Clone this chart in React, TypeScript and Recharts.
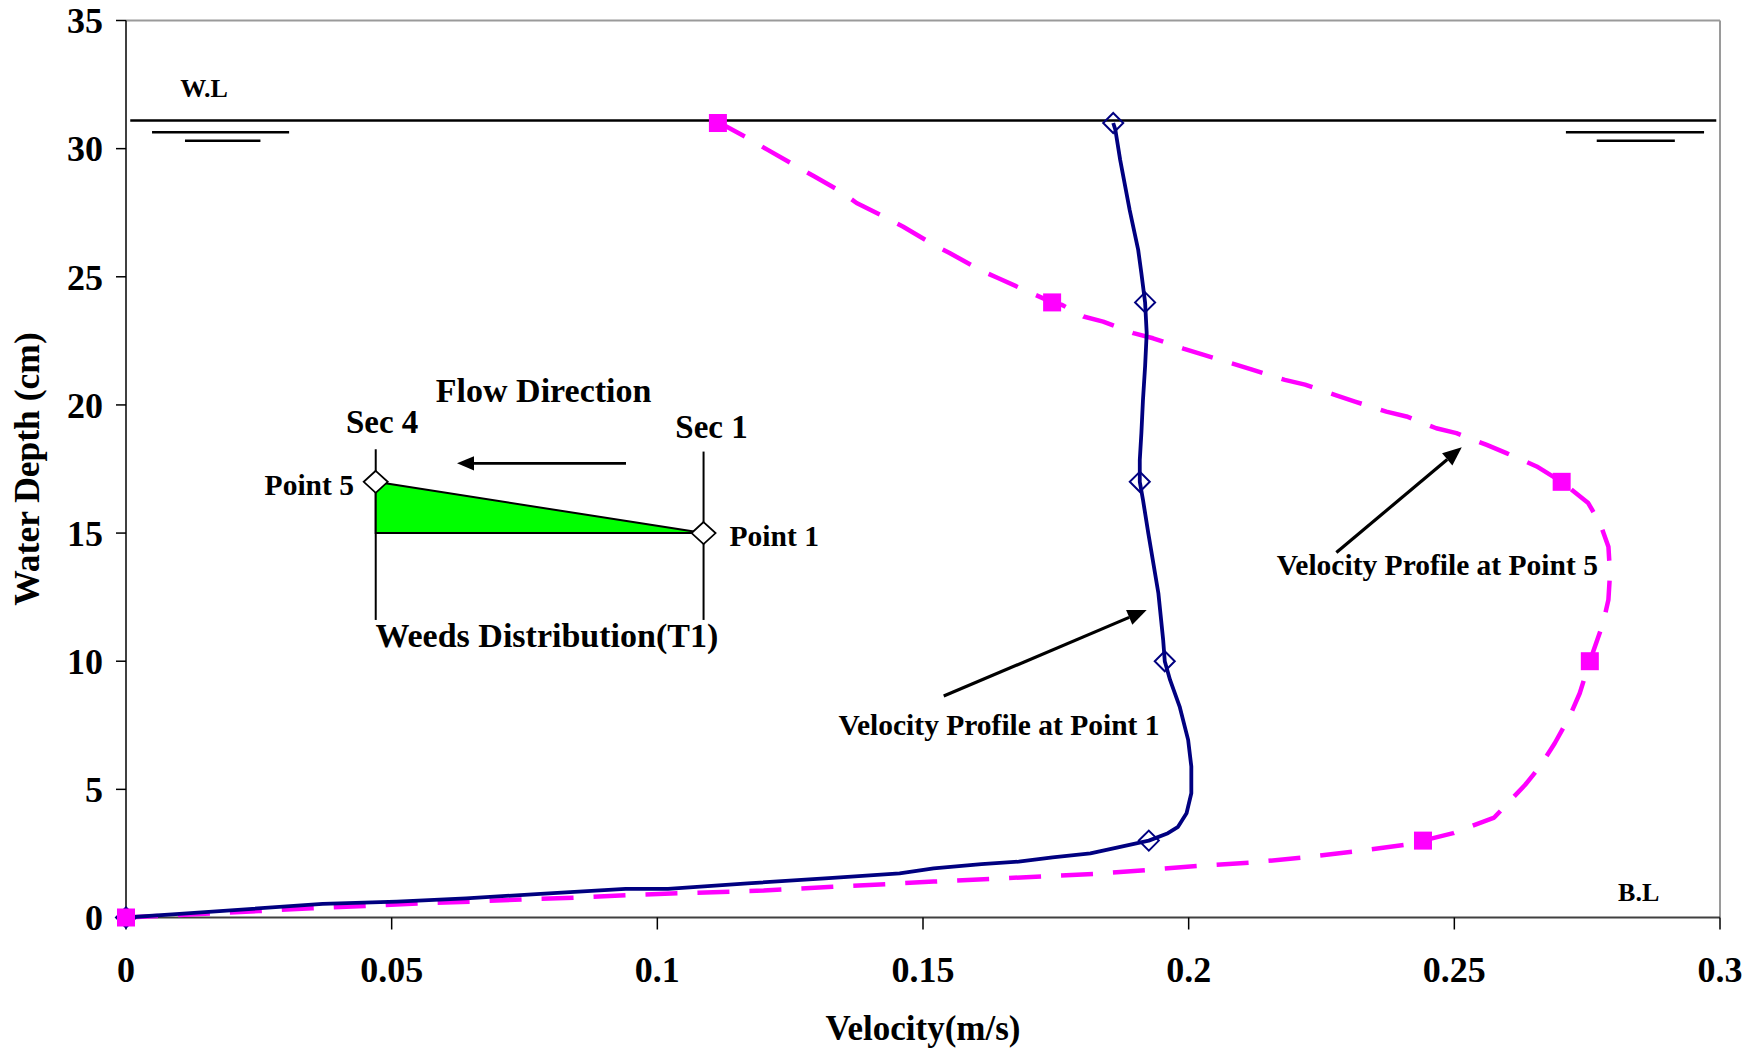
import React from "react";
import {
  ScatterChart,
  Scatter,
  XAxis,
  YAxis,
  ReferenceLine,
  ReferenceDot,
  Label,
} from "recharts";

const FONT = '"Liberation Serif", "Times New Roman", serif';
const NAVY = "#000080";
const MAGENTA = "#FF00FF";

const velocityTicks = [0, 0.05, 0.1, 0.15, 0.2, 0.25, 0.3];
const depthTicks = [0, 5, 10, 15, 20, 25, 30, 35];

// measured points (markers)
const point1Velocity = [0, 0.1925, 0.1955, 0.1908, 0.1918, 0.1858];
const point1Depth = [0, 3, 10, 17, 24, 31];
const point5Velocity = [0, 0.2441, 0.2755, 0.2702, 0.1743, 0.1114];
const point5Depth = [0, 3, 10, 17, 24, 31];

// drawn profile curves, traced from bed up to the surface
const point1CurveVelocity = [
  0, 0.0087, 0.037, 0.051, 0.064, 0.078, 0.094, 0.102, 0.117, 0.133, 0.1456,
  0.152, 0.161, 0.168, 0.1744, 0.1815, 0.1867, 0.1925, 0.1961, 0.198, 0.1996,
  0.2005, 0.2005, 0.1999, 0.1983, 0.1965, 0.1955, 0.1952, 0.1943, 0.1924,
  0.1914, 0.1908, 0.1908, 0.1911, 0.1914, 0.1918, 0.1921, 0.1918, 0.1911,
  0.1905, 0.1889, 0.1871, 0.1862, 0.1858,
];
const point1CurveDepth = [
  0, 0.12, 0.53, 0.62, 0.75, 0.92, 1.12, 1.12, 1.33, 1.55, 1.72, 1.92, 2.08,
  2.18, 2.35, 2.5, 2.74, 3, 3.29, 3.54, 4.07, 4.85, 5.89, 6.93, 8.23, 9.27, 10,
  10.83, 12.65, 15, 16.3, 17, 17.86, 18.9, 20.2, 21.5, 22.8, 24, 25.14, 26.05,
  27.6, 29.57, 30.74, 31,
];

const point5CurveVelocity = [
  0, 0.01, 0.025, 0.035, 0.045, 0.055, 0.065, 0.075, 0.085, 0.095, 0.105,
  0.12, 0.133, 0.1456, 0.152, 0.165, 0.182, 0.192, 0.202, 0.212, 0.222, 0.231,
  0.2405, 0.2441, 0.2498, 0.2575, 0.2633, 0.2661, 0.2689, 0.2717, 0.2736,
  0.2755, 0.278, 0.279, 0.2793, 0.279, 0.2774, 0.2752, 0.2702, 0.2655, 0.2598,
  0.2561, 0.2504, 0.2466, 0.241, 0.2372, 0.2313, 0.2275, 0.2219, 0.2181,
  0.2121, 0.2059, 0.2027, 0.199, 0.1933, 0.1896, 0.1839, 0.1802, 0.1762,
  0.1743, 0.1697, 0.1641, 0.1607, 0.155, 0.152, 0.1462, 0.1426, 0.1375,
  0.1345, 0.1295, 0.1257, 0.1207, 0.117, 0.1129, 0.1114,
];
const point5CurveDepth = [
  0, 0.1, 0.25, 0.36, 0.45, 0.55, 0.62, 0.71, 0.78, 0.88, 0.95, 1.05, 1.2,
  1.33, 1.4, 1.53, 1.7, 1.85, 2.02, 2.15, 2.35, 2.57, 2.83, 3, 3.29, 3.9, 5.17,
  5.89, 6.8, 7.84, 8.75, 10, 11.48, 12.4, 13.43, 14.47, 15.39, 16.17, 17, 17.6,
  18.12, 18.44, 18.9, 19.09, 19.55, 19.74, 20.13, 20.39, 20.79, 20.98, 21.37,
  21.76, 21.96, 22.2, 22.6, 22.8, 23.25, 23.45, 23.9, 24, 24.43, 24.95, 25.27,
  25.93, 26.25, 26.96, 27.35, 27.88, 28.33, 28.92, 29.37, 29.96, 30.41, 30.87,
  31,
];

const waterLevel = 31.1;

const zip = (v: number[], d: number[]) => v.map((x, i) => ({ v: x, d: d[i] }));

const point1Points = zip(point1Velocity, point1Depth);
const point5Points = zip(point5Velocity, point5Depth);
const point1Curve = zip(point1CurveVelocity, point1CurveDepth);
const point5Curve = zip(point5CurveVelocity, point5CurveDepth);

const Empty = () => <g />;

const HollowDiamond = (p: any) => (
  <path
    d={`M${p.cx},${p.cy - 10}L${p.cx + 10},${p.cy}L${p.cx},${p.cy + 10}L${p.cx - 10},${p.cy}Z`}
    fill="none"
    stroke={NAVY}
    strokeWidth={2}
  />
);

const Square = (p: any) => (
  <rect x={p.cx - 9} y={p.cy - 9} width={18} height={18} fill={MAGENTA} />
);

const WhiteDiamond = (p: any) => (
  <path
    d={`M${p.cx},${p.cy - 11}L${p.cx + 12},${p.cy}L${p.cx},${p.cy + 11}L${p.cx - 12},${p.cy}Z`}
    fill="#fff"
    stroke="#000"
    strokeWidth={1.8}
  />
);

const Arrow = ({ x1, y1, x2, y2, w = 3, head = 18 }: any) => {
  const a = Math.atan2(y2 - y1, x2 - x1);
  const bx = x2 - head * Math.cos(a);
  const by = y2 - head * Math.sin(a);
  const hw = head * 0.42;
  const px = -Math.sin(a) * hw;
  const py = Math.cos(a) * hw;
  return (
    <g>
      <line x1={x1} y1={y1} x2={bx} y2={by} stroke="#000" strokeWidth={w} />
      <polygon
        points={`${x2},${y2} ${bx + px},${by + py} ${bx - px},${by - py}`}
        fill="#000"
      />
    </g>
  );
};

const Wedge = ({ x1, y1, x2, y2 }: any) => (
  <polygon
    points={`${x1},${y1} ${x2},${y2} ${x1},${y2}`}
    fill="#00FF00"
    stroke="#000"
    strokeWidth={2}
  />
);

const textAt =
  (text: string, size: number, anchor: "start" | "middle" | "end" = "middle") =>
  (p: any) => (
    <text
      x={p.cx}
      y={p.cy}
      textAnchor={anchor}
      fontFamily={FONT}
      fontWeight="bold"
      fontSize={size}
      fill="#000"
    >
      {text}
    </text>
  );

const tickStyle = {
  fontSize: 36,
  fontFamily: FONT,
  fontWeight: "bold",
  fill: "#000",
};

export default function App() {
  return (
    <div style={{ position: "absolute", left: 0, top: 0, background: "#fff" }}>
      <ScatterChart
        width={1755}
        height={1051}
        margin={{ top: 20.5, right: 35, bottom: 33.5, left: 26 }}
      >
        <XAxis
          type="number"
          dataKey="v"
          domain={[0, 0.3]}
          ticks={velocityTicks}
          interval={0}
          height={100}
          tickSize={12}
          tickMargin={27}
          tick={tickStyle}
          tickLine={{ stroke: "#000", strokeWidth: 1.5 }}
          axisLine={{ stroke: "#404040", strokeWidth: 2 }}
          tickFormatter={(v) => String(v)}
        >
          <Label
            content={(props: any) => {
              const vb = props.viewBox ?? { x: 126, y: 917.5, width: 1594, height: 100 };
              return (
                <text
                  x={vb.x + vb.width / 2}
                  y={vb.y + 122.5}
                  textAnchor="middle"
                  fontFamily={FONT}
                  fontWeight="bold"
                  fontSize={35}
                >
                  Velocity(m/s)
                </text>
              );
            }}
          />
        </XAxis>
        <YAxis
          type="number"
          dataKey="d"
          domain={[0, 35]}
          ticks={depthTicks}
          interval={0}
          width={100}
          tickSize={10}
          tickMargin={13}
          tick={tickStyle}
          tickLine={{ stroke: "#000", strokeWidth: 1.5 }}
          axisLine={{ stroke: "#000", strokeWidth: 1.5 }}
        >
          <Label
            content={(props: any) => {
              const vb = props.viewBox ?? { x: 26, y: 20.5, width: 100, height: 897 };
              const x = vb.x + 13;
              const y = vb.y + vb.height / 2;
              return (
                <text
                  x={x}
                  y={y}
                  transform={`rotate(-90 ${x} ${y})`}
                  textAnchor="middle"
                  fontFamily={FONT}
                  fontWeight="bold"
                  fontSize={35.5}
                >
                  Water Depth (cm)
                </text>
              );
            }}
          />
        </YAxis>

        {/* plot frame */}
        <ReferenceLine y={35} stroke="#9a9a9a" strokeWidth={2} />
        <ReferenceLine x={0.3} stroke="#9a9a9a" strokeWidth={2} />

        {/* water level symbol */}
        <ReferenceLine
          segment={[{ x: 0.0008, y: waterLevel }, { x: 0.2993, y: waterLevel }]}
          stroke="#000"
          strokeWidth={2.6}
        />
        <ReferenceLine segment={[{ x: 0.0049, y: 30.64 }, { x: 0.0307, y: 30.64 }]} stroke="#000" strokeWidth={2.4} />
        <ReferenceLine segment={[{ x: 0.0111, y: 30.31 }, { x: 0.0253, y: 30.31 }]} stroke="#000" strokeWidth={2.4} />
        <ReferenceLine segment={[{ x: 0.271, y: 30.64 }, { x: 0.297, y: 30.64 }]} stroke="#000" strokeWidth={2.4} />
        <ReferenceLine segment={[{ x: 0.2768, y: 30.31 }, { x: 0.2915, y: 30.31 }]} stroke="#000" strokeWidth={2.4} />
        <ReferenceDot x={0.0147} y={32.03} r={1} shape={textAt("W.L", 26)} />
        <ReferenceDot x={0.2847} y={0.66} r={1} shape={textAt("B.L", 26)} />

        {/* inset: weeds distribution sketch */}
        <ReferenceLine segment={[{ x: 0.047, y: 11.61 }, { x: 0.047, y: 18.27 }]} stroke="#000" strokeWidth={2} />
        <ReferenceLine segment={[{ x: 0.1087, y: 11.61 }, { x: 0.1087, y: 18.18 }]} stroke="#000" strokeWidth={2} />
        <ReferenceLine
          segment={[{ x: 0.047, y: 17 }, { x: 0.1087, y: 15 }]}
          shape={(p: any) => <Wedge {...p} />}
        />
        <ReferenceDot x={0.047} y={17} r={1} shape={WhiteDiamond} />
        <ReferenceDot x={0.1087} y={15} r={1} shape={WhiteDiamond} />
        <ReferenceLine
          segment={[{ x: 0.0941, y: 17.72 }, { x: 0.0623, y: 17.72 }]}
          shape={(p: any) => <Arrow {...p} w={2.7} head={17} />}
        />
        <ReferenceDot x={0.0786} y={20.13} r={1} shape={textAt("Flow Direction", 34)} />
        <ReferenceDot x={0.0482} y={18.92} r={1} shape={textAt("Sec 4", 33)} />
        <ReferenceDot x={0.1102} y={18.72} r={1} shape={textAt("Sec 1", 33)} />
        <ReferenceDot x={0.0429} y={16.49} r={1} shape={textAt("Point 5", 29.5, "end")} />
        <ReferenceDot x={0.1136} y={14.51} r={1} shape={textAt("Point 1", 29.5, "start")} />
        <ReferenceDot x={0.0792} y={10.54} r={1} shape={textAt("Weeds Distribution(T1)", 34)} />

        {/* profile callouts */}
        <ReferenceLine
          segment={[{ x: 0.1539, y: 8.64 }, { x: 0.1921, y: 12.0 }]}
          shape={(p: any) => <Arrow {...p} w={3.2} head={19} />}
        />
        <ReferenceLine
          segment={[{ x: 0.2278, y: 14.24 }, { x: 0.2514, y: 18.35 }]}
          shape={(p: any) => <Arrow {...p} w={3.2} head={19} />}
        />
        <ReferenceDot x={0.1643} y={7.12} r={1} shape={textAt("Velocity Profile at Point 1", 29.5)} />
        <ReferenceDot x={0.2468} y={13.36} r={1} shape={textAt("Velocity Profile at Point 5", 29.5)} />

        {/* series */}
        <Scatter
          data={point5Curve}
          fill={MAGENTA}
          line={{ stroke: MAGENTA, strokeWidth: 4.5, strokeDasharray: "32 20", strokeLinejoin: "round" }}
          lineType="joint"
          shape={Empty}
          isAnimationActive={false}
        />
        <Scatter
          data={point1Curve}
          fill={NAVY}
          line={{ stroke: NAVY, strokeWidth: 3.8, strokeLinejoin: "round" }}
          lineType="joint"
          shape={Empty}
          isAnimationActive={false}
        />
        <Scatter data={point1Points} fill={NAVY} shape={HollowDiamond} isAnimationActive={false} />
        <Scatter data={point5Points} fill={MAGENTA} shape={Square} isAnimationActive={false} />
      </ScatterChart>
    </div>
  );
}
